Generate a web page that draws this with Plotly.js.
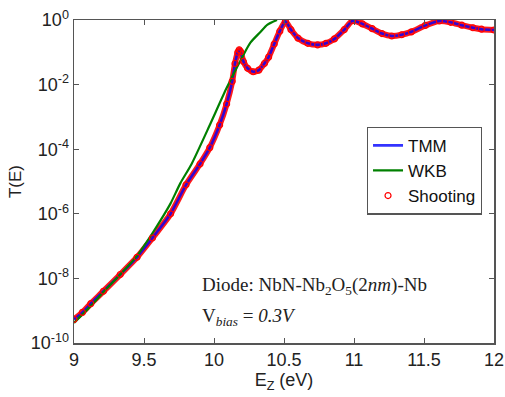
<!DOCTYPE html>
<html>
<head>
<meta charset="utf-8">
<script src="https://cdn.plot.ly/plotly-3.0.1.min.js"></script>
<style>html,body{margin:0;padding:0;background:#fff;}#chart{width:505px;height:397px;}</style>
</head>
<body>
<div id="chart"></div>
<script>
// Energy (eV) and transmission
const tmmE = [9.00, 9.06, 9.12, 9.21, 9.33, 9.45, 9.56, 9.69, 9.80, 9.90, 9.97, 10.04, 10.09, 10.13, 10.15, 10.17, 10.18, 10.19, 10.21, 10.24, 10.28, 10.32, 10.36, 10.39, 10.43, 10.47, 10.51, 10.55, 10.60, 10.67, 10.74, 10.80, 10.86, 10.93, 10.99, 11.06, 11.13, 11.20, 11.27, 11.34, 11.41, 11.51, 11.61, 11.69, 11.77, 11.85, 11.91, 12.00];
const tmmT = [5.4e-10, 8.9e-10, 1.66e-9, 4.0e-9, 1.32e-8, 4.5e-8, 1.78e-7, 1.0e-6, 7.9e-6, 3.5e-5, 1.12e-4, 5.6e-4, 2.5e-3, 1.26e-2, 4.5e-2, 0.10, 0.12, 0.105, 0.052, 0.032, 0.025, 0.028, 0.045, 0.071, 0.18, 0.45, 0.91, 0.50, 0.275, 0.19, 0.17, 0.19, 0.26, 0.50, 0.95, 0.76, 0.54, 0.38, 0.32, 0.35, 0.43, 0.68, 0.93, 0.85, 0.69, 0.575, 0.52, 0.49];
const shootE = tmmE.slice();
const shootT = tmmT.slice();
const wkbE = [9.00, 9.12, 9.21, 9.33, 9.45, 9.56, 9.64, 9.69, 9.76, 9.84, 9.97, 10.09, 10.21, 10.26, 10.33, 10.38, 10.45];
const wkbT = [4.2e-10, 1.41e-9, 3.8e-9, 1.32e-8, 5.0e-8, 2.5e-7, 8.9e-7, 2.1e-6, 8.9e-6, 3.5e-5, 5.6e-4, 7.8e-3, 8.3e-2, 0.20, 0.42, 0.71, 1.0];
const yTickVals = [1e-10, 1e-8, 1e-6, 1e-4, 1e-2, 1];
const yTickText = ['10<sup>-10</sup>', '10<sup>-8</sup>', '10<sup>-6</sup>', '10<sup>-4</sup>', '10<sup>-2</sup>', '10<sup>0</sup>'];
const xTickVals = [9, 9.5, 10, 10.5, 11, 11.5, 12];
const xTickText = ['9', '9.5', '10', '10.5', '11', '11.5', '12'];

const traces = [
  {x: shootE, y: shootT, mode: 'lines', line: {color: '#ff1a1a', width: 6, shape: 'spline', smoothing: 0.6}, showlegend: false, hoverinfo: 'skip'},
  {x: tmmE, y: tmmT, mode: 'lines', name: 'TMM', line: {color: '#0000ff', width: 2.6, shape: 'spline', smoothing: 0.6}, opacity: 0.8},
  {x: wkbE, y: wkbT, mode: 'lines', name: 'WKB', line: {color: '#008000', width: 2.2, shape: 'spline', smoothing: 0.6}},
  {x: shootE, y: shootT, mode: 'markers', name: 'Shooting', marker: {symbol: 'circle-open', size: 6, color: '#ff0000', line: {width: 1.2, color: '#ff0000'}}}
];

const axisCommon = {showline: true, linecolor: '#555', linewidth: 1.5, mirror: 'ticks', ticks: 'inside', ticklen: 5, tickcolor: '#555', showgrid: false, zeroline: false, tickfont: {family: 'Liberation Sans, Arial', size: 18, color: '#222'}};

const layout = {
  width: 505, height: 397,
  margin: {l: 74, r: 11, t: 20, b: 54},
  paper_bgcolor: '#fff', plot_bgcolor: '#fff',
  xaxis: Object.assign({}, axisCommon, {range: [9, 12], tickvals: xTickVals, ticktext: xTickText,
    title: {text: 'E<sub>Z</sub> (eV)', font: {family: 'Liberation Sans, Arial', size: 18, color: '#222'}, standoff: 2}}),
  yaxis: Object.assign({}, axisCommon, {type: 'log', range: [-10, 0], tickvals: yTickVals, ticktext: yTickText,
    title: {text: 'T(E)', font: {family: 'Liberation Sans, Arial', size: 17, color: '#222'}, standoff: 4}}),
  legend: {x: 0.971, y: 0.67, xanchor: 'right', yanchor: 'top', bgcolor: '#fff', bordercolor: '#555', borderwidth: 1.2,
    font: {family: 'Liberation Sans, Arial', size: 17, color: '#111'}, tracegroupgap: 0, itemwidth: 30},
  annotations: [
    {xref: 'paper', yref: 'paper', x: 0.3, y: 0.176, xanchor: 'left', yanchor: 'middle', showarrow: false,
     text: 'Diode: NbN-Nb<sub>2</sub>O<sub>5</sub>(2<i>nm</i>)-Nb', font: {family: 'Liberation Serif, Times New Roman', size: 19, color: '#222'}},
    {xref: 'paper', yref: 'paper', x: 0.3, y: 0.082, xanchor: 'left', yanchor: 'middle', showarrow: false,
     text: 'V<sub><i>bias</i></sub> = <i>0.3V</i>', font: {family: 'Liberation Serif, Times New Roman', size: 19, color: '#222'}}
  ],
  showlegend: true
};

Plotly.newPlot('chart', traces, layout, {displayModeBar: false, staticPlot: true});
</script>
</body>
</html>
